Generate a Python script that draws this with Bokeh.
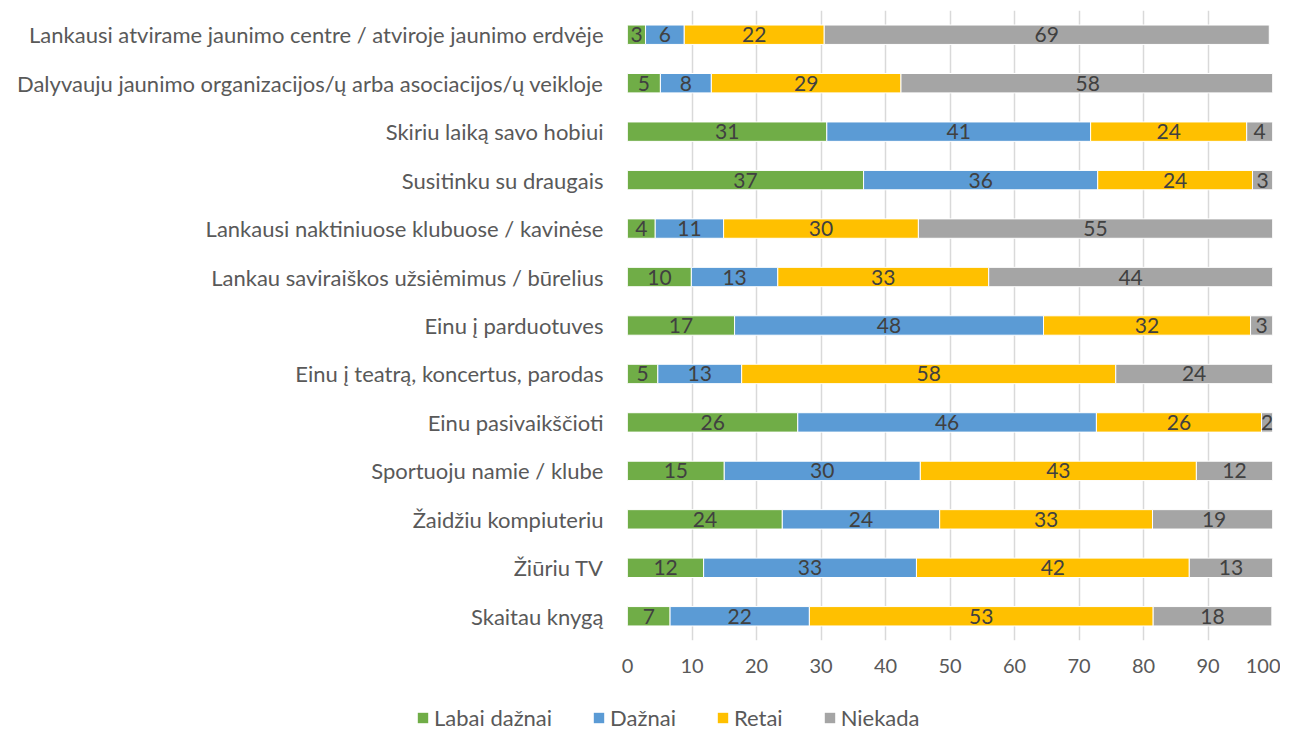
from bokeh.plotting import figure
from bokeh.layouts import column
from bokeh.models import ColumnDataSource, FactorRange, Range1d, Legend, LegendItem, LabelSet
from bokeh.core.properties import value
from bokeh.embed import file_html
from bokeh.resources import INLINE

categories = [
    "Lankausi atvirame jaunimo centre / atviroje jaunimo erdvėje",
    "Dalyvauju jaunimo organizacijos/ų arba asociacijos/ų veikloje",
    "Skiriu laiką savo hobiui",
    "Susitinku su draugais",
    "Lankausi naktiniuose klubuose / kavinėse",
    "Lankau saviraiškos užsiėmimus / būrelius",
    "Einu į parduotuves",
    "Einu į teatrą, koncertus, parodas",
    "Einu pasivaikščioti",
    "Sportuoju namie / klube",
    "Žaidžiu kompiuteriu",
    "Žiūriu TV",
    "Skaitau knygą",
]
labai_daznai = [2.8, 5.1, 30.9, 36.6, 4.3, 9.9, 16.6, 4.7, 26.4, 15.0, 24.0, 11.8, 6.6]
daznai = [6.0, 7.9, 40.9, 36.3, 10.6, 13.4, 47.9, 13.0, 46.3, 30.4, 24.4, 33.0, 21.6]
retai = [21.7, 29.4, 24.2, 24.0, 30.2, 32.7, 32.1, 58.0, 25.6, 42.8, 33.0, 42.3, 53.3]
niekada = [69.0, 57.9, 4.0, 3.1, 54.9, 44.0, 3.4, 24.3, 1.7, 11.8, 19.1, 12.9, 18.4]

series_names = ["Labai dažnai", "Dažnai", "Retai", "Niekada"]
series_keys = ["s0", "s1", "s2", "s3"]
colors = ["#70ad47", "#5b9bd5", "#ffc000", "#a5a5a5"]
x_ticks = [0, 10, 20, 30, 40, 50, 60, 70, 80, 90, 100]

FONT = "Lato"

data = dict(cat=categories, s0=labai_daznai, s1=daznai, s2=retai, s3=niekada)
source = ColumnDataSource(data)

p = figure(
    width=1280, height=688,
    y_range=FactorRange(factors=list(reversed(categories)), range_padding=0),
    x_range=Range1d(0, 100),
    output_backend="svg", toolbar_location=None,
    min_border_left=627, min_border_right=8, min_border_top=10, min_border_bottom=48,
)

renderers = p.hbar_stack(series_keys, y="cat", height=0.4, color=colors,
                         line_color="white", line_width=1, source=source)

# data labels centred in each segment
vals = [labai_daznai, daznai, retai, niekada]
lx, ly, lt = [], [], []
for i, cat in enumerate(categories):
    cum = 0.0
    for s in vals:
        v = s[i]
        lx.append(cum + v / 2)
        ly.append(cat)
        lt.append(f"{v:.0f}")
        cum += v
lsrc = ColumnDataSource(dict(x=lx, y=ly, t=lt))
labels = LabelSet(x="x", y="y", text="t", source=lsrc, text_align="center",
                  text_baseline="middle", text_font=value(FONT), text_font_size=value("21px"),
                  text_color=value("#404040"))
p.add_layout(labels)

p.outline_line_color = None
p.ygrid.grid_line_color = None
p.xgrid.grid_line_color = "#d9d9d9"
p.xgrid.grid_line_width = 1.5
p.xaxis.ticker = x_ticks
p.xaxis.axis_line_color = None
p.xaxis.major_tick_line_color = None
p.xaxis.minor_tick_line_color = None
p.xaxis.major_label_text_font = FONT
p.xaxis.major_label_text_font_size = "20px"
p.xaxis.major_label_text_color = "#595959"
p.xaxis.major_label_standoff = 12
p.yaxis.axis_line_color = None
p.yaxis.major_tick_line_color = None
p.yaxis.major_label_text_font = FONT
p.yaxis.major_label_text_font_size = "22px"
p.yaxis.major_label_text_color = "#595959"
p.yaxis.major_label_standoff = 18

# legend in its own strip below the chart (uses the same series sources)
pl = figure(width=1280, height=43, output_backend="svg", toolbar_location=None,
            x_range=Range1d(0, 1), y_range=Range1d(0, 1),
            min_border_left=0, min_border_right=0, min_border_top=0, min_border_bottom=0)
try:
    pl.frame_align = False
    p.frame_align = False
except Exception:
    pass
pl.xaxis.visible = False
pl.yaxis.visible = False
pl.outline_line_color = None
pl.xgrid.visible = False
pl.ygrid.visible = False
leg_src = ColumnDataSource(dict(cat=categories, s0=labai_daznai, s1=daznai, s2=retai, s3=niekada))
leg_renderers = pl.hbar_stack(series_keys, y=-5, height=0.4, color=colors,
                              line_color=None, source=leg_src)
legend = Legend(
    items=[LegendItem(label=n, renderers=[r]) for n, r in zip(series_names, leg_renderers)],
    orientation="horizontal", location=(416, 0),
    label_text_font=FONT, label_text_font_size="22px", label_text_color="#595959",
    glyph_width=13, glyph_height=13, spacing=40, label_standoff=5,
    border_line_color=None, background_fill_alpha=0, margin=0, padding=0,
)
pl.add_layout(legend, "center")

layout = column(p, pl, spacing=0)
open("out.html", "w").write(file_html(layout, INLINE))
